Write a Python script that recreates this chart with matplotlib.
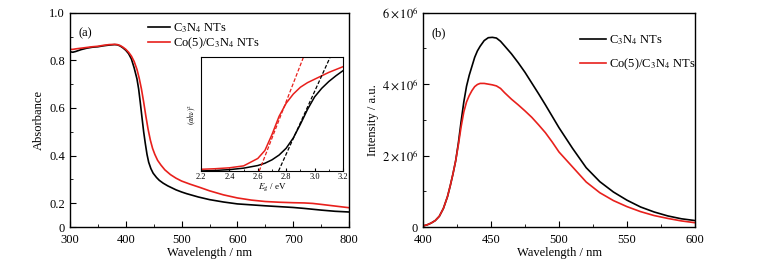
import numpy as np
import matplotlib
matplotlib.use("Agg")
import matplotlib.pyplot as plt
from matplotlib.ticker import MultipleLocator, FixedLocator, FixedFormatter, FuncFormatter

plt.rcParams['font.family'] = ['Liberation Serif', 'DejaVu Serif']
plt.rcParams['mathtext.fontset'] = 'stix'
plt.rcParams['font.size'] = 9

# ---- Panel (a): UV-vis absorbance ----
wl_a = [300, 305, 310, 320, 330, 340, 350, 360, 370, 380, 385, 390, 395, 400, 405, 410, 415, 420,
        423, 426, 429, 432, 435, 438, 441, 445, 449, 455, 460, 467, 475, 490, 500, 509, 530, 550,
        575, 600, 650, 700, 720, 750, 775, 800]
abs_c3n4 = [0.836, 0.834, 0.837, 0.845, 0.851, 0.855, 0.857, 0.861, 0.864, 0.866, 0.865, 0.860,
            0.852, 0.842, 0.828, 0.806, 0.768, 0.722, 0.680, 0.622, 0.560, 0.500, 0.450, 0.405,
            0.372, 0.345, 0.326, 0.308, 0.296, 0.284, 0.273, 0.256, 0.247, 0.240, 0.226, 0.215,
            0.205, 0.197, 0.189, 0.182, 0.178, 0.171, 0.166, 0.163]

wl_a_co = [300, 305, 310, 320, 330, 340, 350, 360, 370, 380, 385, 390, 395, 400, 405, 410, 415,
           420, 424, 428, 432, 436, 440, 444, 448, 452, 457, 463, 470, 480, 490, 500, 515, 533,
           550, 575, 600, 625, 650, 675, 700, 720, 735, 750, 775, 800]
abs_co5 = [0.846, 0.846, 0.848, 0.851, 0.854, 0.857, 0.859, 0.863, 0.866, 0.867, 0.866, 0.862,
           0.855, 0.846, 0.834, 0.818, 0.795, 0.762, 0.725, 0.680, 0.625, 0.565, 0.510, 0.465,
           0.430, 0.405, 0.380, 0.360, 0.340, 0.320, 0.305, 0.293, 0.280, 0.266, 0.252, 0.235,
           0.222, 0.213, 0.207, 0.204, 0.202, 0.201, 0.199, 0.195, 0.188, 0.181]

# ---- Inset: Tauc plot ----
eg_x = [2.2, 2.3, 2.4, 2.5, 2.6, 2.65, 2.7, 2.75, 2.8, 2.85, 2.9, 2.95, 3.0, 3.05, 3.1, 3.15, 3.2]
tauc_c3n4 = [0.0, 0.005, 0.012, 0.025, 0.048, 0.068, 0.098, 0.140, 0.200, 0.290, 0.410, 0.540,
             0.650, 0.725, 0.785, 0.835, 0.880]
tauc_co5 = [0.015, 0.020, 0.028, 0.045, 0.110, 0.180, 0.320, 0.480, 0.595, 0.675, 0.735, 0.775,
            0.805, 0.835, 0.865, 0.890, 0.915]
tangent_c3n4_x = [2.746, 3.11]
tangent_c3n4_y = [0.0, 1.0]
tangent_co5_x = [2.61, 2.922]
tangent_co5_y = [0.0, 1.0]

# ---- Panel (b): PL spectra ----
wl_b = [400, 403, 406, 409, 412, 415, 418, 420, 422, 424, 426, 428, 430, 432, 434, 436, 438, 440,
        442, 445, 448, 451, 454, 457, 460, 465, 470, 475, 480, 485, 490, 495, 500, 510, 520, 530,
        540, 550, 560, 570, 580, 590, 600]
pl_c3n4 = [0.03, 0.06, 0.11, 0.18, 0.30, 0.52, 0.85, 1.15, 1.48, 1.85, 2.35, 2.95, 3.50, 3.94,
           4.25, 4.50, 4.75, 4.93, 5.06, 5.22, 5.30, 5.31, 5.29, 5.20, 5.07, 4.85, 4.60, 4.33,
           4.03, 3.73, 3.42, 3.10, 2.78, 2.20, 1.66, 1.27, 0.98, 0.75, 0.56, 0.42, 0.31, 0.23,
           0.18]
pl_co5 = [0.03, 0.06, 0.11, 0.18, 0.30, 0.52, 0.85, 1.15, 1.48, 1.85, 2.30, 2.80, 3.22, 3.50,
          3.68, 3.82, 3.93, 3.99, 4.02, 4.02, 4.00, 3.98, 3.95, 3.88, 3.76, 3.58, 3.42, 3.25,
          3.07, 2.86, 2.64, 2.38, 2.10, 1.68, 1.26, 0.96, 0.74, 0.57, 0.43, 0.32, 0.24, 0.17,
          0.12]
pl_scale = 1e6

label_c3n4 = r'C$_3$N$_4$ NTs'
label_co5 = r'Co(5)/C$_3$N$_4$ NTs'
red = '#e8201c'

W, H = 758, 268
fig = plt.figure(figsize=(W / 100, H / 100), dpi=100)

def ax_rect(l, t, r, b):
    return [l / W, 1 - b / H, (r - l) / W, (b - t) / H]

def style(ax, size=9):
    ax.tick_params(which='both', direction='in', top=False, right=False, labelsize=size)
    ax.tick_params(which='major', length=4)
    ax.tick_params(which='minor', length=2)
    ax.tick_params(axis='x', pad=5)
    for s in ax.spines.values():
        s.set_linewidth(1.0)

# Panel (a)
ax1 = fig.add_axes(ax_rect(70, 12.7, 349, 227))
ax1.plot(wl_a, abs_c3n4, color='black', lw=1.2, label=label_c3n4)
ax1.plot(wl_a_co, abs_co5, color=red, lw=1.2, label=label_co5)
ax1.set_xlim(300, 800)
ax1.set_ylim(0.1, 1.0)
ax1.xaxis.set_major_locator(MultipleLocator(100))
ax1.xaxis.set_minor_locator(MultipleLocator(50))
ax1.yaxis.set_major_locator(FixedLocator([0.1, 0.2, 0.4, 0.6, 0.8, 1.0]))
ax1.yaxis.set_major_formatter(FixedFormatter(['0', '0.2', '0.4', '0.6', '0.8', '1.0']))
ax1.yaxis.set_minor_locator(FixedLocator([0.3, 0.5, 0.7, 0.9]))
style(ax1)
ax1.set_xlabel('Wavelength / nm', labelpad=1, fontsize=9)
ax1.set_ylabel('Absorbance', labelpad=3, fontsize=9)
ax1.text(0.03, 0.93, '(a)', transform=ax1.transAxes, va='top', ha='left', fontsize=9)
ax1.legend(loc='upper left', bbox_to_anchor=(0.247, 1.0), frameon=False, handlelength=1.75,
           handletextpad=0.25, labelspacing=0.05, borderaxespad=0.3, fontsize=9)

# Inset
axi = fig.add_axes(ax_rect(201, 57, 343, 171))
axi.plot(eg_x, tauc_c3n4, color='black', lw=1.1)
axi.plot(eg_x, tauc_co5, color=red, lw=1.1)
axi.plot(tangent_c3n4_x, tangent_c3n4_y, color='black', lw=0.9, ls='--', dashes=(3, 1.5))
axi.plot(tangent_co5_x, tangent_co5_y, color=red, lw=0.9, ls='--', dashes=(3, 1.5))
axi.set_xlim(2.2, 3.2)
axi.set_ylim(0, 1.0)
axi.xaxis.set_major_locator(MultipleLocator(0.2))
axi.xaxis.set_minor_locator(MultipleLocator(0.1))
axi.xaxis.set_major_formatter(FuncFormatter(lambda v, p: f'{v:.1f}'))
axi.set_yticks([])
axi.tick_params(which='both', direction='in', top=False, right=False, labelsize=6, pad=1.5)
axi.tick_params(which='major', length=2.5)
axi.tick_params(which='minor', length=1.5)
axi.set_xlabel(r'$E_\mathrm{g}$ / eV', fontsize=6.5, labelpad=0)
axi.set_ylabel(r'$(\alpha h\nu)^2$', fontsize=5.5, labelpad=2)

# Panel (b)
ax2 = fig.add_axes(ax_rect(423, 12.7, 695, 227))
ax2.plot(wl_b, np.array(pl_c3n4) * pl_scale, color='black', lw=1.2, label=label_c3n4)
ax2.plot(wl_b, np.array(pl_co5) * pl_scale, color=red, lw=1.2, label=label_co5)
ax2.set_xlim(400, 600)
ax2.set_ylim(0, 6e6)
ax2.xaxis.set_major_locator(MultipleLocator(50))
ax2.xaxis.set_minor_locator(MultipleLocator(25))
ax2.yaxis.set_major_locator(MultipleLocator(2e6))
ax2.yaxis.set_minor_locator(MultipleLocator(1e6))
ax2.yaxis.set_major_formatter(FuncFormatter(
    lambda v, p: '0' if abs(v) < 1 else r'$%d\times10^{6}$' % round(v / 1e6)))
style(ax2)
ax2.set_xlabel('Wavelength / nm', labelpad=1, fontsize=9)
ax2.set_ylabel('Intensity / a.u.', labelpad=2, fontsize=9)
ax2.text(0.03, 0.93, '(b)', transform=ax2.transAxes, va='top', ha='left', fontsize=9)
ax2.legend(loc='upper left', bbox_to_anchor=(0.55, 0.94), frameon=False, handlelength=2.1,
           handletextpad=0.25, labelspacing=0.75, borderaxespad=0.2, fontsize=9)

fig.savefig('out.png', dpi=100)
